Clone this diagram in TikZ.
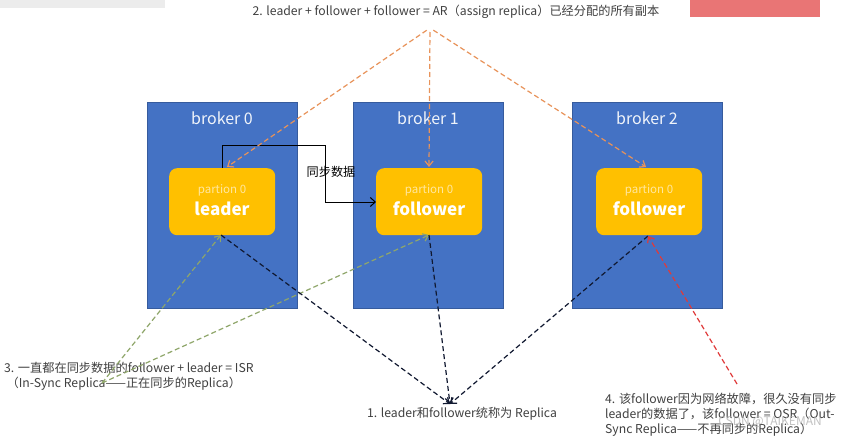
\documentclass[tikz,border=0pt]{standalone}
\usepackage{fontspec}
\setmainfont{Noto Sans CJK SC}
\usetikzlibrary{arrows.meta}
\definecolor{bblue}{HTML}{4472C4}
\definecolor{byellow}{HTML}{FFC000}
\definecolor{ptext}{HTML}{FFE7A0}
\definecolor{aorange}{HTML}{E8935A}
\definecolor{agreen}{HTML}{8FA66A}
\definecolor{ared}{HTML}{E03A3A}
\definecolor{anavy}{HTML}{101830}
\definecolor{tgray}{HTML}{404040}
\tikzset{
  broker/.style={draw=bblue!80!black, line width=0.6pt, fill=bblue, minimum width=150pt, minimum height=206pt, anchor=north west, inner sep=0pt},
  part/.style={fill=byellow, rounded corners=8pt, minimum width=106pt, minimum height=67pt, anchor=north west, inner sep=0pt},
  blabel/.style={text=white!92!bblue, font=\fontsize{16}{18}\selectfont},
  ptxt/.style={text=ptext, font=\fontsize{11.5}{12}\selectfont},
  rtxt/.style={text=white, font=\bfseries\fontsize{17}{19}\selectfont},
  note/.style={text=tgray, font=\fontsize{12.2}{16}\selectfont, inner sep=0pt},
  darr/.style={dashed, dash pattern=on 5pt off 3pt, line width=1.2pt, -{Straight Barb[length=5pt,width=8pt]}},
}
\begin{document}
\begin{tikzpicture}[x=1pt,y=-1pt]
\useasboundingbox (0,0) rectangle (843,439);
\fill[white] (0,0) rectangle (843,439);
% screenshot artefacts
\fill[gray!15] (0,0) rectangle (165,8);
\fill[ared!70] (690,0) rectangle (820,17);

% brokers
\node[broker] (b0) at (147,102) {};
\node[broker] (b1) at (353,102) {};
\node[broker] (b2) at (572,102) {};
\node[blabel] (bl0) at (222,118) {broker 0};
\node[blabel] (bl1) at (428,118) {broker 1};
\node[blabel] (bl2) at (647,118) {broker 2};

% partitions
\node[part] (p0) at (169,168) {};
\node[part] (p1) at (376,168) {};
\node[part] (p2) at (596,168) {};
\node[ptxt] (pt0) at (222,190) {partion 0};
\node[ptxt] (pt1) at (429,190) {partion 0};
\node[ptxt] (pt2) at (649,190) {partion 0};
\node[rtxt] (r0) at (222,209) {leader};
\node[rtxt] (r1) at (429,209) {follower};
\node[rtxt] (r2) at (649,209) {follower};

% anchor coordinates on partitions
\coordinate (p0t) at (222,168);
\coordinate (p0o) at (227,167);
\coordinate (p1t) at (429,167);
\coordinate (p2t) at (646,167);
\coordinate (p0b) at (221,235);
\coordinate (p1b) at (429,235);
\coordinate (p2b) at (648,236);
\coordinate (p1l) at (376,202);

% sync arrow
\draw[line width=1pt, -{Straight Barb[length=5pt,width=9pt]}] (p0t) |- (325,145) |- (p1l);
\node[note, text=black] (sync) at (331,172) {同步数据};

% texts
\node[note] (t2) at (456,12) {2. leader + follower + follower = AR（assign replica）已经分配的所有副本};
\node[note, anchor=west, align=left] (t3) at (4,376) {3. 一直都在同步数据的follower + leader = ISR\\[-1pt]\hspace*{0.2em}（In-Sync Replica——正在同步的Replica）};
\node[note] (t1) at (462,414) {1. leader和follower统称为 Replica};
\node[note, anchor=west, align=left] (t4) at (605,415) {4. 该follower因为网络故障，很久没有同步\\[-1pt]leader的数据了，该follower = OSR（Out-\\[-1pt]Sync Replica——不再同步的Replica）};
\node[text=gray!60, opacity=0.8, font=\fontsize{12}{14}\selectfont] (wm) at (770,422) {CSDN @TAIKEMAN};

% origin coordinates
\coordinate (oA) at (430,28);
\coordinate (oG) at (102,383);
\coordinate (oB) at (450,404);
\coordinate (oR) at (737,384);

% orange AR arrows
\draw[darr, aorange, shorten <=4pt] (oA) -- (p0o);
\draw[darr, aorange, shorten <=4pt] (oA) -- (p1t);
\draw[darr, aorange, shorten <=4pt] (oA) -- (p2t);
% green ISR arrows
\draw[darr, agreen] (oG) -- (p0b);
\draw[darr, agreen] (oG) -- (p1b);
% black replica arrows
\draw[darr, anavy] (p0b) -- (oB);
\draw[darr, anavy] (p1b) -- (oB);
\draw[darr, anavy] (p2b) -- (oB);
% red OSR arrow
\draw[darr, ared] (oR) -- (p2b);
\end{tikzpicture}
\end{document}
